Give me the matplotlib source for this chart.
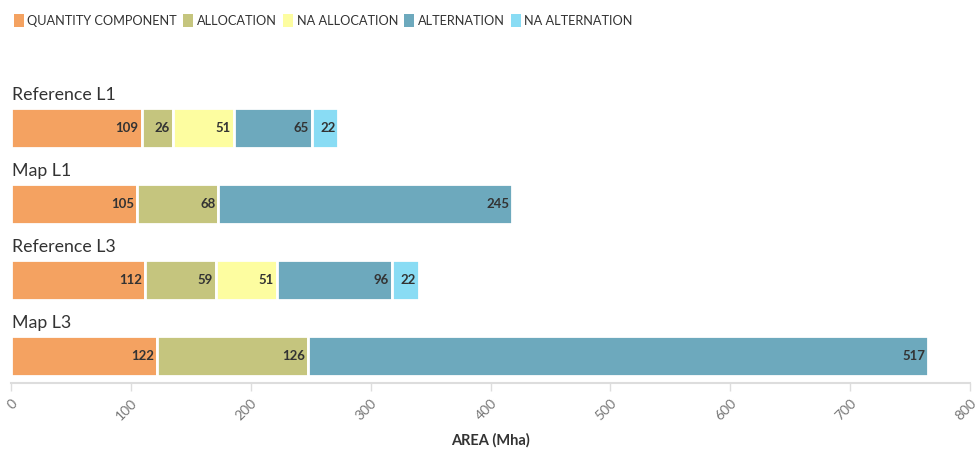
import matplotlib
matplotlib.use("Agg")
import matplotlib.pyplot as plt
from matplotlib.patches import Patch

plt.rcParams['font.family'] = ['Lato', 'DejaVu Sans']

categories = ["Reference L1", "Map L1", "Reference L3", "Map L3"]
series_names = ["QUANTITY COMPONENT", "ALLOCATION", "NA ALLOCATION", "ALTERNATION", "NA ALTERNATION"]
quantity = [109, 105, 112, 122]
allocation = [26, 68, 59, 126]
na_allocation = [51, 0, 51, 0]
alternation = [65, 245, 96, 517]
na_alternation = [22, 0, 22, 0]
colors = ["#F4A261", "#C5C57E", "#FDFDA0", "#6DA9BD", "#89DCF4"]
xticks = [0, 100, 200, 300, 400, 500, 600, 700, 800]

series = [quantity, allocation, na_allocation, alternation, na_alternation]

fig = plt.figure(figsize=(9.77, 4.51), dpi=100)
ax = fig.add_axes([11/977, 1 - 383/451, 959/977, 293/451])

ypos = [3, 2, 1, 0]
h = 40/76
lefts = [0, 0, 0, 0]
for vals, col in zip(series, colors):
    for i, v in enumerate(vals):
        if v <= 0:
            continue
        ax.barh(ypos[i], v, left=lefts[i], height=h, color=col,
                edgecolor="white", linewidth=2)
        ax.text(lefts[i] + v - 2.5, ypos[i], str(v), ha="right", va="center",
                fontsize=9.5, fontweight="bold", color="#333333")
        lefts[i] += v

for i, c in enumerate(categories):
    ax.text(0.5, ypos[i] + h/2 + 0.07, c, ha="left", va="bottom",
            fontsize=12.8, color="#333333")

ax.set_xlim(0, 800)
ax.set_ylim(-0.355, 3.5)
ax.set_xticks(xticks)
ax.set_xticklabels([str(t) for t in xticks], rotation=45, ha="right",
                   rotation_mode="anchor", color="#777777", fontsize=10)
ax.tick_params(axis="x", length=6, color="#dddddd", width=1, pad=4)
ax.set_yticks([])
for s in ["top", "right", "left"]:
    ax.spines[s].set_visible(False)
ax.spines["bottom"].set_color("#dddddd")
ax.spines["bottom"].set_linewidth(1.5)

fig.text(490/977, 1 - 440/451, "AREA (Mha)", ha="center", va="center",
         fontsize=10.5, fontweight="bold", color="#333333")

handles = [Patch(facecolor=c, edgecolor="none") for c in colors]
fig.legend(handles, series_names, loc="upper left", bbox_to_anchor=(0.0, 1.0),
           ncol=5, frameon=False, fontsize=9.2, handlelength=0.75, handleheight=1.2,
           handletextpad=0.3, columnspacing=0.5, borderaxespad=0.7,
           labelcolor="#333333")

fig.savefig("out.png", dpi=100, facecolor="white")
